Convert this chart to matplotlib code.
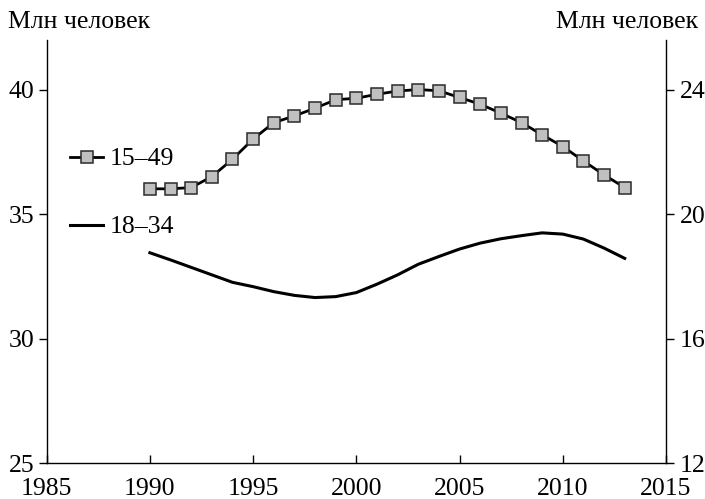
import matplotlib
matplotlib.use("Agg")
import matplotlib.pyplot as plt

plt.rcParams['font.family'] = ['Liberation Serif', 'DejaVu Serif']

years = list(range(1990, 2014))
age_15_49 = [36.02, 36.02, 36.07, 36.51, 37.21, 38.02, 38.68, 38.95, 39.26, 39.60,
             39.66, 39.82, 39.95, 40.01, 39.96, 39.69, 39.42, 39.06, 38.68, 38.19,
             37.72, 37.14, 36.58, 36.07]
age_18_34 = [18.76, 18.53, 18.29, 18.05, 17.81, 17.67, 17.51, 17.39, 17.32, 17.35,
             17.48, 17.75, 18.05, 18.39, 18.64, 18.88, 19.07, 19.21, 19.31, 19.40,
             19.36, 19.20, 18.91, 18.58]
label_15_49 = "15\u201249"
label_18_34 = "18\u201234"
unit_label = "Млн человек"
x_ticks = [1985, 1990, 1995, 2000, 2005, 2010, 2015]
left_ticks = [25, 30, 35, 40]
right_ticks = [12, 16, 20, 24]

FS = 18.5
fig = plt.figure(figsize=(7.05, 4.99), dpi=100)
ax = fig.add_axes([0.0662, 0.0721, 0.8785, 0.8477])
ax2 = ax.twinx()

l1, = ax.plot(years, age_15_49, color='black', lw=2.0, marker='s', markersize=8.0,
              markerfacecolor='#c0c0c0', markeredgecolor='#2a2a2a', markeredgewidth=1.1)
l2, = ax2.plot(years, age_18_34, color='black', lw=2.2)

ax.set_xlim(1985, 2015)
ax.set_ylim(25, 42)
ax2.set_ylim(12, 25.6)
ax.set_xticks(x_ticks)
ax.set_yticks(left_ticks)
ax2.set_yticks(right_ticks)

for s in ['top', 'right']:
    ax.spines[s].set_visible(False)
for s in ['top', 'left', 'bottom']:
    ax2.spines[s].set_visible(False)
for a in (ax, ax2):
    for s in a.spines.values():
        s.set_linewidth(1.0)

ax.tick_params(axis='x', direction='in', length=6, width=1, pad=10.5, labelsize=FS)
ax.tick_params(axis='y', direction='out', length=6, width=1, pad=3, labelsize=FS)
ax2.tick_params(axis='y', direction='out', length=6, width=1, pad=4, labelsize=FS)

fig.text(8/705, 1 - 22/499, unit_label, fontsize=FS, ha='left', va='center')
fig.text(698/705, 1 - 22/499, unit_label, fontsize=FS, ha='right', va='center')

fig.legend(handles=[l1], labels=[label_15_49], loc='center left',
           bbox_to_anchor=(70/705, 1 - 159/499), frameon=False, fontsize=FS,
           handlelength=1.3, handletextpad=0.25, borderaxespad=0, borderpad=0)
fig.legend(handles=[l2], labels=[label_18_34], loc='center left',
           bbox_to_anchor=(70/705, 1 - 227/499), frameon=False, fontsize=FS,
           handlelength=1.3, handletextpad=0.25, borderaxespad=0, borderpad=0)

fig.savefig("out.png", dpi=100)
